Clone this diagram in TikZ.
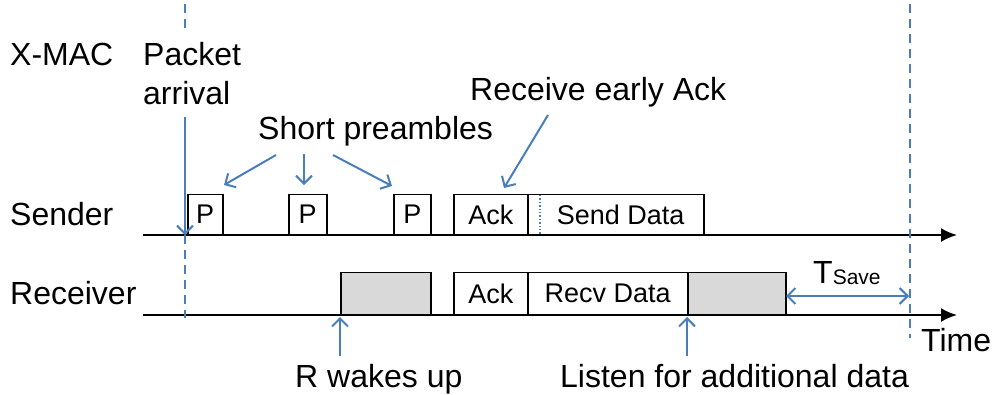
\documentclass[tikz,border=0pt]{standalone}
\usepackage{fontspec}
\setmainfont{Liberation Sans}
\usetikzlibrary{arrows.meta}
\definecolor{tlblue}{HTML}{4A7EBB}
\definecolor{slotgray}{HTML}{D9D9D9}
\tikzset{
  lbl/.style={anchor=base west, inner sep=0pt, font=\fontsize{32}{36}\selectfont},
  slot/.style={draw=black, line width=1.5pt, anchor=south west, inner sep=0pt,
    font=\fontsize{27}{30}\selectfont, text depth=0pt},
  sleep/.style={slot, fill=slotgray},
  axis/.style={line width=2.2pt, -{Latex[length=16pt,width=14pt]}},
  barb/.tip={Straight Barb[length=8pt,width=16pt,line width=2pt]},
  callout/.style={draw=tlblue, line width=2pt, -barb},
  guide/.style={draw=tlblue, line width=1.6pt, dash pattern=on 9pt off 6pt},
}
\begin{document}
\begin{tikzpicture}[x=1pt,y=-1pt]
\useasboundingbox (0,0) rectangle (996,394);

% time axes
\coordinate (sStart) at (143,235);
\coordinate (sEnd) at (957,235);
\coordinate (rStart) at (143,315);
\coordinate (rEnd) at (957,315);
\draw[axis] (sStart) -- (sEnd);
\draw[axis] (rStart) -- (rEnd);

% row labels
\node[lbl] (xmac) at (10,65) {X-MAC};
\node[lbl] (sender) at (10,225) {Sender};
\node[lbl] (receiver) at (10,304) {Receiver};
\node[lbl] (time) at (921,351) {Time};

% sender slots
\node[slot, minimum width=35pt, minimum height=40pt] (p1) at (187,235) {P};
\node[slot, minimum width=38pt, minimum height=40pt] (p2) at (288,235) {P};
\node[slot, minimum width=37pt, minimum height=40pt] (p3) at (393,235) {P};
\node[slot, minimum width=74pt, minimum height=40pt] (sack) at (453,235) {Ack};
\node[slot, minimum width=176pt, minimum height=40pt] (sdata) at (527,235) {\hspace*{10pt}Send Data};
\coordinate (dotTop) at (540,195);
\coordinate (dotBot) at (540,235);
\draw[tlblue, line width=1.4pt, dotted] (dotTop) -- (dotBot);

% receiver slots
\node[sleep, minimum width=90pt, minimum height=42pt] (wake) at (340,315) {};
\node[slot, minimum width=74pt, minimum height=42pt] (rack) at (453,315) {Ack};
\node[slot, minimum width=160pt, minimum height=42pt] (rdata) at (527,315) {Recv Data};
\node[sleep, minimum width=98pt, minimum height=42pt] (listen) at (687,315) {};

% packet arrival marker
\node[lbl] (pkt) at (143,65) {Packet};
\node[lbl] (arr) at (143,104) {arrival};
\coordinate (arrTop) at (185,4);
\coordinate (arrMid) at (185,28);
\coordinate (arrFrom) at (185,117);
\coordinate (arrAt) at (185,235);
\coordinate (arrBot) at (185,318);
\draw[guide] (arrTop) -- (arrMid);
\draw[callout] (arrFrom) -- (arrAt);
\draw[guide] (arrAt) -- (arrBot);

% end of cycle marker
\coordinate (endTop) at (910,4);
\coordinate (endBot) at (910,338);
\draw[guide] (endTop) -- (endBot);

% short preambles
\node[lbl] (sp) at (258,139) {Short preambles};
\coordinate (spL) at (276,155);
\coordinate (spM) at (304,154);
\coordinate (spR) at (333,155);
\coordinate (p1in) at (224,185);
\coordinate (p2in) at (304,185);
\coordinate (p3in) at (392,186);
\draw[callout] (spL) -- (p1in);
\draw[callout] (spM) -- (p2in);
\draw[callout] (spR) -- (p3in);

% early ack
\node[lbl] (early) at (470,100) {Receive early Ack};
\coordinate (earlyFrom) at (548,115);
\coordinate (earlyTo) at (504,188);
\draw[callout] (earlyFrom) -- (earlyTo);

% T_Save interval
\node[lbl] (tsave) at (813,283) {T\fontsize{21}{24}\selectfont\raisebox{-1pt}{Save}};
\coordinate (tsL) at (786,296);
\coordinate (tsR) at (909,296);
\draw[draw=tlblue, line width=2pt, barb-barb] (tsL) -- (tsR);

% wake-up and listen markers
\node[lbl] (rw) at (295,387) {R wakes up};
\node[lbl] (lf) at (560,387) {Listen for additional data};
\coordinate (rwFrom) at (340,356);
\coordinate (rwTo) at (340,317);
\coordinate (lfFrom) at (687,356);
\coordinate (lfTo) at (687,317);
\draw[callout] (rwFrom) -- (rwTo);
\draw[callout] (lfFrom) -- (lfTo);
\end{tikzpicture}
\end{document}
